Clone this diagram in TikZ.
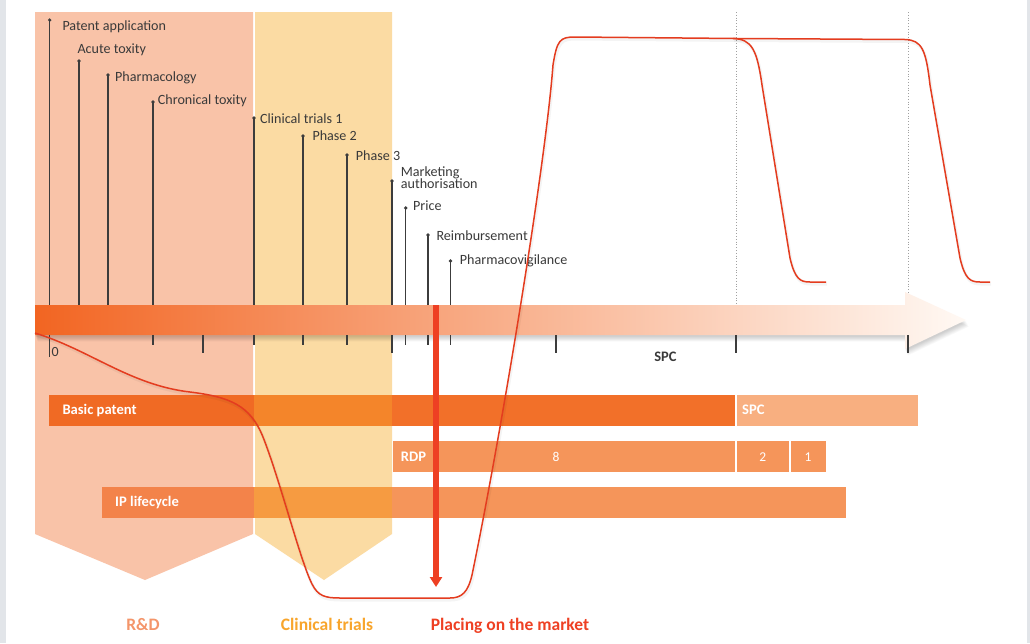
\documentclass[tikz,border=0pt]{standalone}
\usepackage{fontspec}
\setmainfont{Carlito}
\usetikzlibrary{arrows.meta}
\definecolor{bggray}{HTML}{E2E5E9}
\definecolor{rdfill}{HTML}{F9C3A8}
\definecolor{ctfill}{HTML}{FBDBA3}
\definecolor{stemc}{HTML}{3C3C3C}
\definecolor{txtdark}{HTML}{3A3A3A}
\definecolor{tlleft}{HTML}{F26522}
\definecolor{tlright}{HTML}{FFF9F4}
\definecolor{bpA}{HTML}{F06A24}
\definecolor{bpB}{HTML}{F4852A}
\definecolor{bpC}{HTML}{F27029}
\definecolor{spcfill}{HTML}{F8AF80}
\definecolor{rdpfill}{HTML}{F5955A}
\definecolor{ipA}{HTML}{F3834A}
\definecolor{ipB}{HTML}{F69B41}
\definecolor{ipC}{HTML}{F5955A}
\definecolor{curvec}{HTML}{E43C1F}
\definecolor{redarrow}{HTML}{EE4023}
\definecolor{rdlabel}{HTML}{F4956A}
\definecolor{ctlabel}{HTML}{F8A52C}
\definecolor{dotgray}{HTML}{A0A0A0}
\begin{document}
\begin{tikzpicture}[x=1pt,y=-1pt,
  lbl/.style={anchor=base west, inner sep=0pt, text=txtdark, font=\fontsize{14.1}{13}\selectfont},
  barlbl/.style={anchor=base west, inner sep=0pt, text=white, font=\bfseries\fontsize{14.6}{14}\selectfont},
  barnum/.style={anchor=base, inner sep=0pt, text=white, font=\fontsize{13.5}{13}\selectfont},
  phaselbl/.style={anchor=base, inner sep=0pt, font=\bfseries\fontsize{17.5}{18}\selectfont},
  stem/.style={draw=stemc, line width=1.1pt},
  curve/.style={draw=curvec, line width=1.5pt, line join=round},
  curveshadow/.style={draw=black, opacity=0.045, line width=3pt, line join=round}]
\useasboundingbox (0,0) rectangle (1030,643);
\fill[bggray] (0,0) rectangle (1030,643);
\fill[white] (6,0) rectangle (1027,643);

% phase pentagons
\fill[rdfill] (35,12) -- (253,12) -- (253,534) -- (145,580) -- (35,534) -- cycle;
\fill[ctfill] (255,12) -- (392,12) -- (392,534) -- (324,580) -- (255,534) -- cycle;

% dotted guides
\draw[dotgray, dotted, line width=0.8pt] (736,12) -- (736,305);
\draw[dotgray, dotted, line width=0.8pt] (908,12) -- (908,305);

% stems above the timeline
\foreach \x/\y in {49.7/20, 79/61, 108/75, 153/102, 254/118, 303/136, 347/155, 392/181, 405.7/208, 428/235, 450.5/261}{
  \draw[stem] (\x,\y) -- (\x,305);
  \fill[stemc] (\x,\y) circle (1.8);
}

% timeline shadow
\foreach \s in {1,...,8}{
  \begin{scope}[shift={(\s*0.35,1+\s*0.7)}]
    \fill[black, opacity=0.022] (35,305) -- (905,305) -- (905,292) -- (966,320) -- (905,349) -- (905,335) -- (35,335) -- cycle;
  \end{scope}
}
% timeline arrow
\shade[left color=tlleft, right color=tlright] (35,305) -- (905,305) -- (905,292) -- (966,320) -- (905,349) -- (905,335) -- (35,335) -- cycle;

% ticks below the timeline
\foreach \x/\y in {49.7/357, 153/345, 203/353, 254/345, 303/345, 347/345, 392/353, 405.7/345, 428/345, 450.5/345, 556/353, 736/353, 908/353}{
  \draw[stem] (\x,335) -- (\x,\y);
}
\node[anchor=base west, inner sep=0pt, text=txtdark, font=\fontsize{14}{13}\selectfont] (zero) at (51.5,356.5) {0};
\node[anchor=base, inner sep=0pt, text=txtdark, font=\bfseries\fontsize{14.5}{14}\selectfont] (spctl) at (665.5,361) {SPC};

% bars
\fill[bpA] (49,395) rectangle (254,426);
\fill[bpB] (254,395) rectangle (392,426);
\fill[bpC] (392,395) rectangle (735,426);
\fill[spcfill] (737,395) rectangle (918,426);
\fill[rdpfill] (393,441) rectangle (735,472);
\fill[rdpfill] (737,441) rectangle (789,472);
\fill[rdpfill] (790.5,441) rectangle (826,472);
\fill[ipA] (102,487) rectangle (254,518);
\fill[ipB] (254,487) rectangle (392,518);
\fill[ipC] (392,487) rectangle (846,518);

\node[barlbl] (bp) at (62.3,414.3) {Basic patent};
\node[barlbl] (spc) at (742,414.3) {SPC};
\node[barlbl] (rdp) at (400.7,461) {RDP};
\node[barnum] (n8) at (556,461) {8};
\node[barnum] (n2) at (762.7,461) {2};
\node[barnum] (n1) at (808,461) {1};
\node[barlbl] (ip) at (115,506.7) {IP lifecycle};

% stem labels
\node[lbl] (l1) at (62.3,30) {Patent application};
\node[lbl] (l2) at (77.3,53.5) {Acute toxity};
\node[lbl] (l3) at (115,81.7) {Pharmacology};
\node[lbl] (l4) at (157.7,104.3) {Chronical toxity};
\node[lbl] (l5) at (260,123.3) {Clinical trials 1};
\node[lbl] (l6) at (312.3,140.7) {Phase 2};
\node[lbl] (l7) at (355.7,160.7) {Phase 3};
\node[lbl] (l8a) at (400.7,176) {Marketing};
\node[lbl] (l8b) at (400.7,188.3) {authorisation};
\node[lbl] (l9) at (413,210.7) {Price};
\node[lbl] (l10) at (436.3,240) {Reimbursement};
\node[lbl] (l11) at (459.7,264) {Pharmacovigilance};

% bottom phase labels
\node[phaselbl, text=rdlabel] (prd) at (143,630) {R\&D};
\node[phaselbl, text=ctlabel] (pct) at (327,630) {Clinical trials};
\node[phaselbl, text=redarrow] (ppm) at (510,630) {Placing on the market};

% product life curve
\begin{scope}[shift={(1,2)}]
\draw[curveshadow] (35,333) .. controls (90,350) and (130,385) .. (190,392) .. controls (230,397) and (250,405) .. (263,437) .. controls (280,480) and (300,560) .. (312,584) .. controls (318,596) and (325,598) .. (340,598) -- (450,598) .. controls (462,598) and (468,592) .. (472,575) .. controls (500,440) and (545,170) .. (553,65) .. controls (557,40) and (560,37) .. (575,37) -- (736,38.5) -- (905,39.5) .. controls (922,40) and (926,50) .. (930,85) -- (960,258) .. controls (965,279) and (970,282) .. (980,282) -- (990,282);
\draw[curveshadow] (733,38.5) .. controls (752,39) and (757,50) .. (762,85) -- (790,258) .. controls (795,279) and (800,282) .. (810,282) -- (826,282);
\end{scope}
\draw[curve] (35,333) .. controls (90,350) and (130,385) .. (190,392) .. controls (230,397) and (250,405) .. (263,437) .. controls (280,480) and (300,560) .. (312,584) .. controls (318,596) and (325,598) .. (340,598) -- (450,598) .. controls (462,598) and (468,592) .. (472,575) .. controls (500,440) and (545,170) .. (553,65) .. controls (557,40) and (560,37) .. (575,37) -- (736,38.5) -- (905,39.5) .. controls (922,40) and (926,50) .. (930,85) -- (960,258) .. controls (965,279) and (970,282) .. (980,282) -- (990,282);
\draw[curve] (733,38.5) .. controls (752,39) and (757,50) .. (762,85) -- (790,258) .. controls (795,279) and (800,282) .. (810,282) -- (826,282);

% red market arrow
\coordinate (ra1) at (436,305);
\coordinate (ra2) at (436,587);
\draw[redarrow, line width=5.5pt, -{Triangle[width=12pt,length=10pt]}] (ra1) -- (ra2);
\end{tikzpicture}
\end{document}
